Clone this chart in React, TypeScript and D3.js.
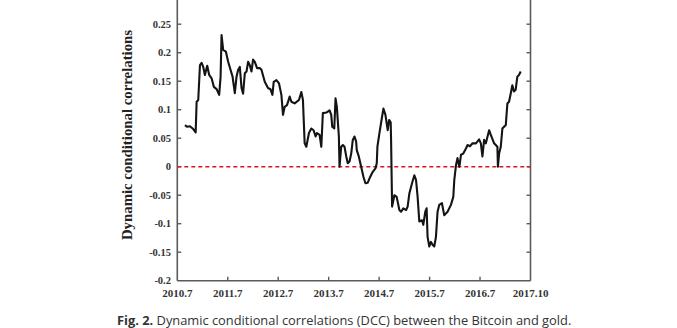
import React from "react";
import * as d3 from "d3";

// x position in years since 2010.7 (tick positions 0..7), y = DCC value
const dccTime = [
  0.152, 0.198, 0.251, 0.316, 0.364, 0.383, 0.415, 0.449, 0.482, 0.514, 0.547, 0.581, 0.593, 0.632, 0.68, 0.725,
  0.779, 0.83, 0.858, 0.877, 0.909, 0.962, 1.008, 1.055, 1.095, 1.14, 1.174, 1.206, 1.239, 1.273, 1.304, 1.338,
  1.372, 1.403, 1.437, 1.47, 1.502, 1.536, 1.581, 1.634, 1.668, 1.733, 1.798, 1.846, 1.885, 1.911, 1.964, 2.016,
  2.063, 2.095, 2.128, 2.174, 2.227, 2.261, 2.326, 2.411, 2.458, 2.49, 2.524, 2.557, 2.609, 2.656, 2.701, 2.741,
  2.767, 2.82, 2.854, 2.885, 2.953, 3.018, 3.051, 3.071, 3.111, 3.136, 3.162, 3.202, 3.215, 3.249, 3.281, 3.314,
  3.348, 3.379, 3.413, 3.447, 3.478, 3.512, 3.545, 3.557, 3.597, 3.644, 3.69, 3.729, 3.775, 3.822, 3.874, 3.927,
  3.953, 3.966, 4.006, 4.059, 4.085, 4.125, 4.15, 4.17, 4.198, 4.229, 4.237, 4.257, 4.302, 4.348, 4.401, 4.435,
  4.48, 4.534, 4.565, 4.599, 4.652, 4.698, 4.731, 4.763, 4.796, 4.85, 4.875, 4.915, 4.941, 4.96, 4.994, 5.028,
  5.059, 5.093, 5.126, 5.158, 5.191, 5.245, 5.29, 5.356, 5.423, 5.47, 5.49, 5.524, 5.553, 5.591, 5.623, 5.668,
  5.721, 5.753, 5.8, 5.852, 5.919, 5.982, 6.016, 6.047, 6.081, 6.115, 6.18, 6.213, 6.279, 6.344, 6.354, 6.378,
  6.411, 6.443, 6.51, 6.542, 6.575, 6.609, 6.64, 6.672, 6.706, 6.739, 6.772, 6.806,
];
const dccValue = [
  0.073, 0.07, 0.071, 0.066, 0.06, 0.114, 0.117, 0.178, 0.182, 0.175, 0.161, 0.173, 0.177, 0.161, 0.155, 0.14,
  0.136, 0.126, 0.158, 0.231, 0.205, 0.202, 0.184, 0.17, 0.158, 0.129, 0.158, 0.17, 0.175, 0.138, 0.128, 0.164,
  0.167, 0.184, 0.178, 0.167, 0.188, 0.184, 0.173, 0.173, 0.17, 0.149, 0.138, 0.136, 0.126, 0.149, 0.152, 0.146,
  0.126, 0.091, 0.105, 0.108, 0.123, 0.114, 0.111, 0.117, 0.131, 0.117, 0.041, 0.035, 0.059, 0.067, 0.064, 0.053,
  0.059, 0.056, 0.035, 0.094, 0.095, 0.099, 0.091, 0.07, 0.067, 0.12, 0.105, 0.053, 0.0, 0.035, 0.038, 0.035,
  0.018, 0.006, 0.009, 0.023, 0.047, 0.053, 0.044, 0.029, 0.018, 0.0, -0.018, -0.029, -0.028, -0.018, -0.009, -0.003,
  0.006, 0.035, 0.059, 0.088, 0.102, 0.091, 0.076, 0.064, 0.082, 0.078, 0.047, -0.07, -0.05, -0.053, -0.076, -0.079,
  -0.073, -0.076, -0.07, -0.047, -0.029, -0.015, -0.023, -0.053, -0.096, -0.094, -0.102, -0.079, -0.073, -0.123, -0.14, -0.132,
  -0.137, -0.14, -0.123, -0.079, -0.067, -0.064, -0.085, -0.079, -0.067, -0.053, -0.023, 0.003, 0.015, 0.0, 0.021, 0.023,
  0.032, 0.038, 0.036, 0.041, 0.041, 0.048, 0.041, 0.018, 0.047, 0.041, 0.064, 0.056, 0.041, 0.035, 0.0, 0.023,
  0.035, 0.067, 0.073, 0.111, 0.114, 0.129, 0.143, 0.132, 0.135, 0.158, 0.161, 0.167,
];

const xTickLabels = ["2010.7", "2011.7", "2012.7", "2013.7", "2014.7", "2015.7", "2016.7", "2017.10"];
const yTicks = [-0.2, -0.15, -0.1, -0.05, 0, 0.05, 0.1, 0.15, 0.2, 0.25];

const W = 677;
const H = 328;
const left = 177.3;
const right = 530.5;
const bottom = 280.7;

export default function App() {
  const x = d3.scaleLinear().domain([0, 7]).range([left, right]);
  const y = d3.scaleLinear().domain([-0.2, 0.3]).range([bottom, bottom - 0.5 * 570]);
  const pts: [number, number][] = dccTime.map((t, i) => [t, dccValue[i]]);
  const line = d3
    .line<[number, number]>()
    .x((d) => x(d[0]))
    .y((d) => y(d[1]));
  const axisColor = "#5a5a5a";
  const serif = "'Liberation Serif', 'Times New Roman', serif";
  const top = y(0.3);
  return (
    <svg
      width={W}
      height={H}
      style={{ position: "absolute", left: 0, top: 0, background: "#fff" }}
    >
      {/* frame */}
      <line x1={left} x2={left} y1={top} y2={bottom} stroke={axisColor} strokeWidth={1.6} />
      <line x1={right} x2={right} y1={top} y2={bottom} stroke={axisColor} strokeWidth={1.6} />
      <line x1={left} x2={right} y1={bottom} y2={bottom} stroke={axisColor} strokeWidth={1.6} />
      <line x1={left} x2={right} y1={top} y2={top} stroke={axisColor} strokeWidth={1.6} />
      {/* y ticks */}
      {yTicks.map((v) => (
        <g key={"y" + v}>
          {v > -0.2 && (
            <>
              <line x1={left} x2={left + 4} y1={y(v)} y2={y(v)} stroke={axisColor} strokeWidth={1.4} />
              <line x1={right} x2={right - 4} y1={y(v)} y2={y(v)} stroke={axisColor} strokeWidth={1.4} />
            </>
          )}
          <text
            x={171}
            y={y(v)}
            dy="0.35em"
            textAnchor="end"
            fontFamily={serif}
            fontWeight="bold"
            fontSize={10.5}
            fill="#333"
          >
            {String(v)}
          </text>
        </g>
      ))}
      {/* x ticks */}
      {xTickLabels.map((lab, i) => (
        <g key={"x" + i}>
          {i > 0 && i < 7 && (
            <line x1={x(i)} x2={x(i)} y1={bottom} y2={bottom - 4} stroke={axisColor} strokeWidth={1.4} />
          )}
          <text
            x={x(i)}
            y={297}
            textAnchor="middle"
            fontFamily={serif}
            fontWeight="bold"
            fontSize={11}
            fill="#333"
          >
            {lab}
          </text>
        </g>
      ))}
      {/* zero line */}
      <line
        x1={left}
        x2={right}
        y1={y(0)}
        y2={y(0)}
        stroke="#e0141e"
        strokeWidth={1.5}
        strokeDasharray="4,3"
      />
      {/* series */}
      <path d={line(pts) || ""} fill="none" stroke="#141414" strokeWidth={2.1} strokeLinejoin="round" />
      {/* y label */}
      <text
        transform={`translate(132, 135) rotate(-90)`}
        textAnchor="middle"
        fontFamily={serif}
        fontWeight="bold"
        fontSize={14.8}
        fill="#222"
      >
        Dynamic conditional correlations
      </text>
      {/* caption */}
      <text x={117} y={325} fontFamily="'Open Sans', 'Liberation Sans', Arial, sans-serif" fontSize={12.85} fill="#333">
        <tspan fontWeight="bold">Fig. 2.</tspan>
        <tspan> Dynamic conditional correlations (DCC) between the Bitcoin and gold.</tspan>
      </text>
    </svg>
  );
}
